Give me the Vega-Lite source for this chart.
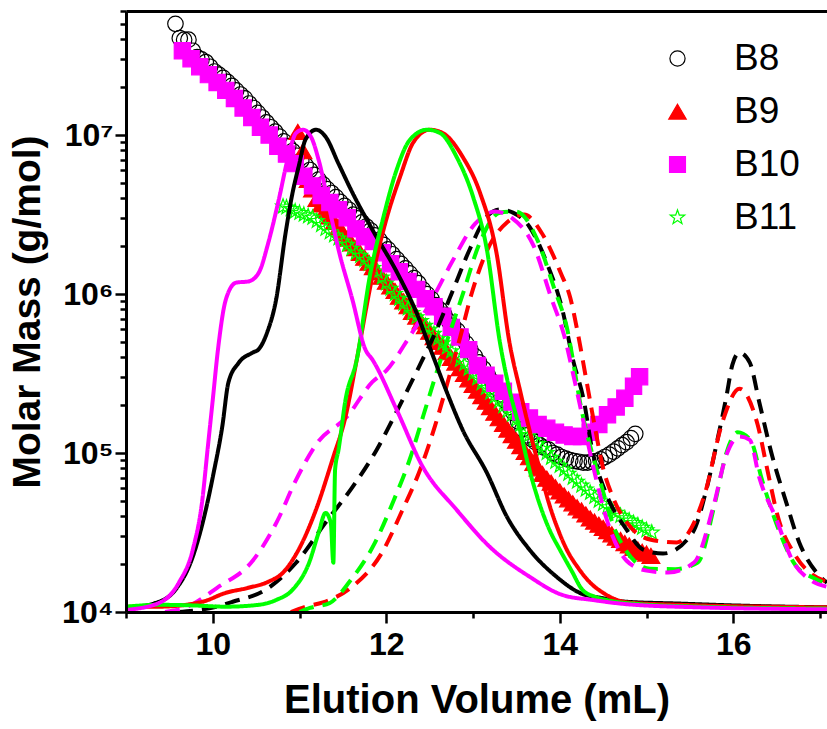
{
"$schema": "https://vega.github.io/schema/vega-lite/v6.json",
"autosize": {"type": "none"},
"width": 701,
"height": 601,
"padding": {"left": 126, "top": 11, "right": 0, "bottom": 117},
"background": "white",
"config": {"view": {"stroke": null}, "font": "Liberation Sans"},
"datasets": {
"pts": [
{"sample":"B8","vol":9.57,"mass":5.01e7},{"sample":"B8","vol":9.62,"mass":4.07e7},{"sample":"B8","vol":9.67,"mass":3.98e7},{"sample":"B8","vol":9.72,"mass":3.98e7},{"sample":"B8","vol":9.77,"mass":3.39e7},{"sample":"B8","vol":9.82,"mass":3.09e7},{"sample":"B8","vol":9.87,"mass":2.99e7},{"sample":"B8","vol":9.92,"mass":2.88e7},{"sample":"B8","vol":9.97,"mass":2.69e7},{"sample":"B8","vol":10.02,"mass":2.51e7},{"sample":"B8","vol":10.07,"mass":2.40e7},{"sample":"B8","vol":10.12,"mass":2.29e7},{"sample":"B8","vol":10.17,"mass":2.16e7},{"sample":"B8","vol":10.22,"mass":2.04e7},{"sample":"B8","vol":10.27,"mass":1.91e7},{"sample":"B8","vol":10.32,"mass":1.80e7},{"sample":"B8","vol":10.37,"mass":1.70e7},{"sample":"B8","vol":10.42,"mass":1.58e7},{"sample":"B8","vol":10.47,"mass":1.48e7},{"sample":"B8","vol":10.52,"mass":1.38e7},{"sample":"B8","vol":10.57,"mass":1.29e7},{"sample":"B8","vol":10.62,"mass":1.20e7},{"sample":"B8","vol":10.67,"mass":1.12e7},{"sample":"B8","vol":10.72,"mass":1.05e7},{"sample":"B8","vol":10.77,"mass":9.77e6},{"sample":"B8","vol":10.82,"mass":9.12e6},{"sample":"B8","vol":10.87,"mass":8.51e6},{"sample":"B8","vol":10.92,"mass":7.94e6},{"sample":"B8","vol":10.97,"mass":7.41e6},{"sample":"B8","vol":11.02,"mass":6.92e6},{"sample":"B8","vol":11.07,"mass":6.46e6},{"sample":"B8","vol":11.12,"mass":6.03e6},{"sample":"B8","vol":11.17,"mass":5.62e6},{"sample":"B8","vol":11.22,"mass":5.25e6},{"sample":"B8","vol":11.27,"mass":4.90e6},{"sample":"B8","vol":11.32,"mass":4.57e6},{"sample":"B8","vol":11.37,"mass":4.32e6},{"sample":"B8","vol":11.42,"mass":4.07e6},{"sample":"B8","vol":11.47,"mass":3.80e6},{"sample":"B8","vol":11.52,"mass":3.59e6},{"sample":"B8","vol":11.57,"mass":3.39e6},{"sample":"B8","vol":11.62,"mass":3.16e6},{"sample":"B8","vol":11.67,"mass":2.99e6},{"sample":"B8","vol":11.72,"mass":2.82e6},{"sample":"B8","vol":11.77,"mass":2.66e6},{"sample":"B8","vol":11.82,"mass":2.51e6},{"sample":"B8","vol":11.87,"mass":2.34e6},{"sample":"B8","vol":11.92,"mass":2.19e6},{"sample":"B8","vol":11.97,"mass":2.04e6},{"sample":"B8","vol":12.02,"mass":1.91e6},{"sample":"B8","vol":12.07,"mass":1.78e6},{"sample":"B8","vol":12.12,"mass":1.66e6},{"sample":"B8","vol":12.17,"mass":1.55e6},{"sample":"B8","vol":12.22,"mass":1.45e6},{"sample":"B8","vol":12.27,"mass":1.35e6},{"sample":"B8","vol":12.32,"mass":1.26e6},{"sample":"B8","vol":12.37,"mass":1.17e6},{"sample":"B8","vol":12.42,"mass":1.07e6},{"sample":"B8","vol":12.47,"mass":1.00e6},{"sample":"B8","vol":12.52,"mass":9.33e5},{"sample":"B8","vol":12.57,"mass":8.51e5},{"sample":"B8","vol":12.62,"mass":7.94e5},{"sample":"B8","vol":12.67,"mass":7.41e5},{"sample":"B8","vol":12.72,"mass":6.76e5},{"sample":"B8","vol":12.77,"mass":6.31e5},{"sample":"B8","vol":12.82,"mass":5.89e5},{"sample":"B8","vol":12.87,"mass":5.37e5},{"sample":"B8","vol":12.92,"mass":4.90e5},{"sample":"B8","vol":12.97,"mass":4.47e5},{"sample":"B8","vol":13.02,"mass":4.07e5},{"sample":"B8","vol":13.07,"mass":3.72e5},{"sample":"B8","vol":13.12,"mass":3.39e5},{"sample":"B8","vol":13.17,"mass":3.09e5},{"sample":"B8","vol":13.22,"mass":2.82e5},{"sample":"B8","vol":13.27,"mass":2.57e5},{"sample":"B8","vol":13.32,"mass":2.34e5},{"sample":"B8","vol":13.37,"mass":2.14e5},{"sample":"B8","vol":13.42,"mass":1.95e5},{"sample":"B8","vol":13.47,"mass":1.78e5},{"sample":"B8","vol":13.52,"mass":1.58e5},{"sample":"B8","vol":13.57,"mass":1.41e5},{"sample":"B8","vol":13.62,"mass":1.29e5},{"sample":"B8","vol":13.67,"mass":1.23e5},{"sample":"B8","vol":13.72,"mass":1.17e5},{"sample":"B8","vol":13.77,"mass":1.12e5},{"sample":"B8","vol":13.82,"mass":1.08e5},{"sample":"B8","vol":13.87,"mass":1.05e5},{"sample":"B8","vol":13.92,"mass":1.00e5},{"sample":"B8","vol":13.97,"mass":9.77e4},{"sample":"B8","vol":14.02,"mass":9.44e4},{"sample":"B8","vol":14.07,"mass":9.23e4},{"sample":"B8","vol":14.12,"mass":9.02e4},{"sample":"B8","vol":14.17,"mass":8.91e4},{"sample":"B8","vol":14.22,"mass":8.81e4},{"sample":"B8","vol":14.27,"mass":8.71e4},{"sample":"B8","vol":14.32,"mass":8.71e4},{"sample":"B8","vol":14.37,"mass":8.81e4},{"sample":"B8","vol":14.42,"mass":8.91e4},{"sample":"B8","vol":14.47,"mass":9.12e4},{"sample":"B8","vol":14.52,"mass":9.44e4},{"sample":"B8","vol":14.57,"mass":9.77e4},{"sample":"B8","vol":14.62,"mass":1.02e5},{"sample":"B8","vol":14.67,"mass":1.07e5},{"sample":"B8","vol":14.72,"mass":1.12e5},{"sample":"B8","vol":14.77,"mass":1.17e5},{"sample":"B8","vol":14.82,"mass":1.24e5},{"sample":"B8","vol":14.87,"mass":1.32e5},
{"sample":"B9","vol":10.98,"mass":1.05e7},{"sample":"B9","vol":11.04,"mass":7.94e6},{"sample":"B9","vol":11.10,"mass":5.25e6},{"sample":"B9","vol":11.15,"mass":4.57e6},{"sample":"B9","vol":11.20,"mass":3.98e6},{"sample":"B9","vol":11.25,"mass":3.67e6},{"sample":"B9","vol":11.30,"mass":3.39e6},{"sample":"B9","vol":11.35,"mass":3.09e6},{"sample":"B9","vol":11.40,"mass":2.85e6},{"sample":"B9","vol":11.45,"mass":2.63e6},{"sample":"B9","vol":11.50,"mass":2.43e6},{"sample":"B9","vol":11.55,"mass":2.24e6},{"sample":"B9","vol":11.60,"mass":2.09e6},{"sample":"B9","vol":11.65,"mass":1.95e6},{"sample":"B9","vol":11.70,"mass":1.82e6},{"sample":"B9","vol":11.75,"mass":1.70e6},{"sample":"B9","vol":11.80,"mass":1.58e6},{"sample":"B9","vol":11.85,"mass":1.48e6},{"sample":"B9","vol":11.90,"mass":1.38e6},{"sample":"B9","vol":11.95,"mass":1.29e6},{"sample":"B9","vol":12.00,"mass":1.20e6},{"sample":"B9","vol":12.05,"mass":1.12e6},{"sample":"B9","vol":12.10,"mass":1.05e6},{"sample":"B9","vol":12.15,"mass":9.66e5},{"sample":"B9","vol":12.20,"mass":9.02e5},{"sample":"B9","vol":12.25,"mass":8.41e5},{"sample":"B9","vol":12.30,"mass":7.76e5},{"sample":"B9","vol":12.35,"mass":7.24e5},{"sample":"B9","vol":12.40,"mass":6.76e5},{"sample":"B9","vol":12.45,"mass":6.31e5},{"sample":"B9","vol":12.50,"mass":5.82e5},{"sample":"B9","vol":12.55,"mass":5.37e5},{"sample":"B9","vol":12.60,"mass":5.01e5},{"sample":"B9","vol":12.65,"mass":4.68e5},{"sample":"B9","vol":12.70,"mass":4.32e5},{"sample":"B9","vol":12.75,"mass":3.98e5},{"sample":"B9","vol":12.80,"mass":3.72e5},{"sample":"B9","vol":12.85,"mass":3.43e5},{"sample":"B9","vol":12.90,"mass":3.16e5},{"sample":"B9","vol":12.95,"mass":2.92e5},{"sample":"B9","vol":13.00,"mass":2.69e5},{"sample":"B9","vol":13.05,"mass":2.48e5},{"sample":"B9","vol":13.10,"mass":2.29e5},{"sample":"B9","vol":13.15,"mass":2.11e5},{"sample":"B9","vol":13.20,"mass":1.95e5},{"sample":"B9","vol":13.25,"mass":1.80e5},{"sample":"B9","vol":13.30,"mass":1.66e5},{"sample":"B9","vol":13.35,"mass":1.53e5},{"sample":"B9","vol":13.40,"mass":1.41e5},{"sample":"B9","vol":13.45,"mass":1.30e5},{"sample":"B9","vol":13.50,"mass":1.20e5},{"sample":"B9","vol":13.55,"mass":1.11e5},{"sample":"B9","vol":13.60,"mass":1.02e5},{"sample":"B9","vol":13.65,"mass":9.44e4},{"sample":"B9","vol":13.70,"mass":8.71e4},{"sample":"B9","vol":13.75,"mass":8.04e4},{"sample":"B9","vol":13.80,"mass":7.41e4},{"sample":"B9","vol":13.85,"mass":6.92e4},{"sample":"B9","vol":13.90,"mass":6.53e4},{"sample":"B9","vol":13.95,"mass":6.10e4},{"sample":"B9","vol":14.00,"mass":5.75e4},{"sample":"B9","vol":14.05,"mass":5.43e4},{"sample":"B9","vol":14.10,"mass":5.13e4},{"sample":"B9","vol":14.15,"mass":4.84e4},{"sample":"B9","vol":14.20,"mass":4.57e4},{"sample":"B9","vol":14.25,"mass":4.37e4},{"sample":"B9","vol":14.30,"mass":4.12e4},{"sample":"B9","vol":14.35,"mass":3.89e4},{"sample":"B9","vol":14.40,"mass":3.72e4},{"sample":"B9","vol":14.45,"mass":3.55e4},{"sample":"B9","vol":14.50,"mass":3.39e4},{"sample":"B9","vol":14.55,"mass":3.24e4},{"sample":"B9","vol":14.60,"mass":3.09e4},{"sample":"B9","vol":14.65,"mass":2.95e4},{"sample":"B9","vol":14.70,"mass":2.85e4},{"sample":"B9","vol":14.75,"mass":2.72e4},{"sample":"B9","vol":14.80,"mass":2.63e4},{"sample":"B9","vol":14.85,"mass":2.54e4},{"sample":"B9","vol":14.90,"mass":2.48e4},{"sample":"B9","vol":14.95,"mass":2.40e4},{"sample":"B9","vol":15.00,"mass":2.34e4},{"sample":"B9","vol":15.05,"mass":2.26e4},
{"sample":"B11","vol":10.81,"mass":3.55e6},{"sample":"B11","vol":10.85,"mass":3.51e6},{"sample":"B11","vol":10.90,"mass":3.43e6},{"sample":"B11","vol":10.95,"mass":3.31e6},{"sample":"B11","vol":11.00,"mass":3.24e6},{"sample":"B11","vol":11.05,"mass":3.16e6},{"sample":"B11","vol":11.10,"mass":3.09e6},{"sample":"B11","vol":11.15,"mass":3.02e6},{"sample":"B11","vol":11.20,"mass":2.88e6},{"sample":"B11","vol":11.25,"mass":2.72e6},{"sample":"B11","vol":11.30,"mass":2.57e6},{"sample":"B11","vol":11.35,"mass":2.45e6},{"sample":"B11","vol":11.40,"mass":2.34e6},{"sample":"B11","vol":11.45,"mass":2.24e6},{"sample":"B11","vol":11.50,"mass":2.14e6},{"sample":"B11","vol":11.55,"mass":2.04e6},{"sample":"B11","vol":11.60,"mass":1.93e6},{"sample":"B11","vol":11.65,"mass":1.82e6},{"sample":"B11","vol":11.70,"mass":1.74e6},{"sample":"B11","vol":11.75,"mass":1.64e6},{"sample":"B11","vol":11.80,"mass":1.55e6},{"sample":"B11","vol":11.85,"mass":1.46e6},{"sample":"B11","vol":11.90,"mass":1.38e6},{"sample":"B11","vol":11.95,"mass":1.27e6},{"sample":"B11","vol":12.00,"mass":1.17e6},{"sample":"B11","vol":12.05,"mass":1.08e6},{"sample":"B11","vol":12.10,"mass":1.00e6},{"sample":"B11","vol":12.15,"mass":9.33e5},{"sample":"B11","vol":12.20,"mass":8.71e5},{"sample":"B11","vol":12.25,"mass":8.13e5},{"sample":"B11","vol":12.30,"mass":7.59e5},{"sample":"B11","vol":12.35,"mass":7.16e5},{"sample":"B11","vol":12.40,"mass":6.76e5},{"sample":"B11","vol":12.45,"mass":6.31e5},{"sample":"B11","vol":12.50,"mass":5.96e5},{"sample":"B11","vol":12.55,"mass":5.62e5},{"sample":"B11","vol":12.60,"mass":5.25e5},{"sample":"B11","vol":12.65,"mass":4.90e5},{"sample":"B11","vol":12.70,"mass":4.62e5},{"sample":"B11","vol":12.75,"mass":4.37e5},{"sample":"B11","vol":12.80,"mass":4.07e5},{"sample":"B11","vol":12.85,"mass":3.85e5},{"sample":"B11","vol":12.90,"mass":3.63e5},{"sample":"B11","vol":12.95,"mass":3.39e5},{"sample":"B11","vol":13.00,"mass":3.16e5},{"sample":"B11","vol":13.05,"mass":2.95e5},{"sample":"B11","vol":13.10,"mass":2.75e5},{"sample":"B11","vol":13.15,"mass":2.57e5},{"sample":"B11","vol":13.20,"mass":2.40e5},{"sample":"B11","vol":13.25,"mass":2.26e5},{"sample":"B11","vol":13.30,"mass":2.11e5},{"sample":"B11","vol":13.35,"mass":1.97e5},{"sample":"B11","vol":13.40,"mass":1.84e5},{"sample":"B11","vol":13.45,"mass":1.74e5},{"sample":"B11","vol":13.50,"mass":1.62e5},{"sample":"B11","vol":13.55,"mass":1.51e5},{"sample":"B11","vol":13.60,"mass":1.41e5},{"sample":"B11","vol":13.65,"mass":1.30e5},{"sample":"B11","vol":13.70,"mass":1.22e5},{"sample":"B11","vol":13.75,"mass":1.14e5},{"sample":"B11","vol":13.80,"mass":1.06e5},{"sample":"B11","vol":13.85,"mass":1.00e5},{"sample":"B11","vol":13.90,"mass":9.33e4},{"sample":"B11","vol":13.95,"mass":8.81e4},{"sample":"B11","vol":14.00,"mass":8.32e4},{"sample":"B11","vol":14.05,"mass":7.85e4},{"sample":"B11","vol":14.10,"mass":7.41e4},{"sample":"B11","vol":14.15,"mass":7.00e4},{"sample":"B11","vol":14.20,"mass":6.61e4},{"sample":"B11","vol":14.25,"mass":6.24e4},{"sample":"B11","vol":14.30,"mass":5.89e4},{"sample":"B11","vol":14.35,"mass":5.62e4},{"sample":"B11","vol":14.40,"mass":5.31e4},{"sample":"B11","vol":14.45,"mass":5.01e4},{"sample":"B11","vol":14.50,"mass":4.79e4},{"sample":"B11","vol":14.55,"mass":4.57e4},{"sample":"B11","vol":14.60,"mass":4.37e4},{"sample":"B11","vol":14.65,"mass":4.22e4},{"sample":"B11","vol":14.70,"mass":4.03e4},{"sample":"B11","vol":14.75,"mass":3.89e4},{"sample":"B11","vol":14.80,"mass":3.76e4},{"sample":"B11","vol":14.85,"mass":3.63e4},{"sample":"B11","vol":14.90,"mass":3.51e4},{"sample":"B11","vol":14.95,"mass":3.39e4},{"sample":"B11","vol":15.00,"mass":3.27e4},{"sample":"B11","vol":15.06,"mass":3.16e4},
{"sample":"B10","vol":9.65,"mass":3.39e7},{"sample":"B10","vol":9.75,"mass":3.02e7},{"sample":"B10","vol":9.85,"mass":2.69e7},{"sample":"B10","vol":9.95,"mass":2.40e7},{"sample":"B10","vol":10.05,"mass":2.14e7},{"sample":"B10","vol":10.15,"mass":1.91e7},{"sample":"B10","vol":10.25,"mass":1.70e7},{"sample":"B10","vol":10.35,"mass":1.48e7},{"sample":"B10","vol":10.45,"mass":1.29e7},{"sample":"B10","vol":10.55,"mass":1.12e7},{"sample":"B10","vol":10.65,"mass":1.00e7},{"sample":"B10","vol":10.75,"mass":8.51e6},{"sample":"B10","vol":10.85,"mass":7.59e6},{"sample":"B10","vol":10.95,"mass":6.61e6},{"sample":"B10","vol":11.05,"mass":5.50e6},{"sample":"B10","vol":11.15,"mass":4.79e6},{"sample":"B10","vol":11.25,"mass":4.17e6},{"sample":"B10","vol":11.35,"mass":3.76e6},{"sample":"B10","vol":11.45,"mass":3.39e6},{"sample":"B10","vol":11.55,"mass":3.02e6},{"sample":"B10","vol":11.65,"mass":2.57e6},{"sample":"B10","vol":11.75,"mass":2.29e6},{"sample":"B10","vol":11.85,"mass":2.14e6},{"sample":"B10","vol":11.95,"mass":1.82e6},{"sample":"B10","vol":12.05,"mass":1.55e6},{"sample":"B10","vol":12.15,"mass":1.38e6},{"sample":"B10","vol":12.25,"mass":1.20e6},{"sample":"B10","vol":12.35,"mass":1.07e6},{"sample":"B10","vol":12.45,"mass":9.33e5},{"sample":"B10","vol":12.55,"mass":8.32e5},{"sample":"B10","vol":12.65,"mass":7.24e5},{"sample":"B10","vol":12.75,"mass":6.17e5},{"sample":"B10","vol":12.85,"mass":5.37e5},{"sample":"B10","vol":12.95,"mass":4.47e5},{"sample":"B10","vol":13.05,"mass":3.55e5},{"sample":"B10","vol":13.15,"mass":3.09e5},{"sample":"B10","vol":13.25,"mass":2.75e5},{"sample":"B10","vol":13.35,"mass":2.45e5},{"sample":"B10","vol":13.45,"mass":2.09e5},{"sample":"B10","vol":13.55,"mass":1.82e5},{"sample":"B10","vol":13.65,"mass":1.66e5},{"sample":"B10","vol":13.75,"mass":1.51e5},{"sample":"B10","vol":13.85,"mass":1.43e5},{"sample":"B10","vol":13.95,"mass":1.35e5},{"sample":"B10","vol":14.05,"mass":1.30e5},{"sample":"B10","vol":14.15,"mass":1.27e5},{"sample":"B10","vol":14.25,"mass":1.27e5},{"sample":"B10","vol":14.35,"mass":1.35e5},{"sample":"B10","vol":14.45,"mass":1.51e5},{"sample":"B10","vol":14.55,"mass":1.74e5},{"sample":"B10","vol":14.65,"mass":1.95e5},{"sample":"B10","vol":14.75,"mass":2.21e5},{"sample":"B10","vol":14.85,"mass":2.63e5},{"sample":"B10","vol":14.92,"mass":3.02e5}
],
"lines": [
{"sample":"B8","kind":"dashed","vol":9.6,"mass":1.0e4},{"sample":"B8","kind":"dashed","vol":10.04,"mass":1.08e4},{"sample":"B8","kind":"dashed","vol":10.23,"mass":1.16e4},{"sample":"B8","kind":"dashed","vol":10.61,"mass":1.38e4},{"sample":"B8","kind":"dashed","vol":10.96,"mass":2.04e4},{"sample":"B8","kind":"dashed","vol":11.30,"mass":3.65e4},{"sample":"B8","kind":"dashed","vol":11.61,"mass":6.1e4},{"sample":"B8","kind":"dashed","vol":11.89,"mass":1.05e5},{"sample":"B8","kind":"dashed","vol":12.13,"mass":1.87e5},{"sample":"B8","kind":"dashed","vol":12.36,"mass":3.34e5},{"sample":"B8","kind":"dashed","vol":12.57,"mass":5.8e5},{"sample":"B8","kind":"dashed","vol":12.77,"mass":1.06e6},{"sample":"B8","kind":"dashed","vol":12.96,"mass":1.9e6},{"sample":"B8","kind":"dashed","vol":13.16,"mass":3.07e6},{"sample":"B8","kind":"dashed","vol":13.31,"mass":3.4e6},{"sample":"B8","kind":"dashed","vol":13.46,"mass":3.25e6},{"sample":"B8","kind":"dashed","vol":13.65,"mass":2.65e6},{"sample":"B8","kind":"dashed","vol":13.85,"mass":1.57e6},{"sample":"B8","kind":"dashed","vol":14.03,"mass":7.96e5},{"sample":"B8","kind":"dashed","vol":14.15,"mass":3.9e5},{"sample":"B8","kind":"dashed","vol":14.28,"mass":2.1e5},{"sample":"B8","kind":"dashed","vol":14.37,"mass":1.07e5},{"sample":"B8","kind":"dashed","vol":14.52,"mass":5.8e4},{"sample":"B8","kind":"dashed","vol":14.77,"mass":3.3e4},{"sample":"B8","kind":"dashed","vol":14.96,"mass":2.47e4},{"sample":"B8","kind":"dashed","vol":15.19,"mass":2.33e4},{"sample":"B8","kind":"dashed","vol":15.53,"mass":3.15e4},{"sample":"B8","kind":"dashed","vol":15.69,"mass":5.9e4},{"sample":"B8","kind":"dashed","vol":15.81,"mass":1.16e5},{"sample":"B8","kind":"dashed","vol":15.92,"mass":2.26e5},{"sample":"B8","kind":"dashed","vol":15.99,"mass":3.6e5},{"sample":"B8","kind":"dashed","vol":16.07,"mass":4.28e5},{"sample":"B8","kind":"dashed","vol":16.19,"mass":3.7e5},{"sample":"B8","kind":"dashed","vol":16.30,"mass":2.08e5},{"sample":"B8","kind":"dashed","vol":16.45,"mass":9.5e4},{"sample":"B8","kind":"dashed","vol":16.61,"mass":4.9e4},{"sample":"B8","kind":"dashed","vol":16.76,"mass":2.74e4},{"sample":"B8","kind":"dashed","vol":16.96,"mass":1.77e4},{"sample":"B8","kind":"dashed","vol":17.08,"mass":1.53e4},
{"sample":"B9","kind":"dashed","vol":10.9,"mass":1.0e4},{"sample":"B9","kind":"dashed","vol":11.07,"mass":1.08e4},{"sample":"B9","kind":"dashed","vol":11.27,"mass":1.15e4},{"sample":"B9","kind":"dashed","vol":11.59,"mass":1.42e4},{"sample":"B9","kind":"dashed","vol":11.95,"mass":2.36e4},{"sample":"B9","kind":"dashed","vol":12.18,"mass":4.3e4},{"sample":"B9","kind":"dashed","vol":12.39,"mass":7.85e4},{"sample":"B9","kind":"dashed","vol":12.56,"mass":1.47e5},{"sample":"B9","kind":"dashed","vol":12.70,"mass":2.7e5},{"sample":"B9","kind":"dashed","vol":12.85,"mass":5.3e5},{"sample":"B9","kind":"dashed","vol":12.98,"mass":9.9e5},{"sample":"B9","kind":"dashed","vol":13.15,"mass":1.82e6},{"sample":"B9","kind":"dashed","vol":13.40,"mass":2.85e6},{"sample":"B9","kind":"dashed","vol":13.59,"mass":3.16e6},{"sample":"B9","kind":"dashed","vol":13.79,"mass":2.43e6},{"sample":"B9","kind":"dashed","vol":14.01,"mass":1.36e6},{"sample":"B9","kind":"dashed","vol":14.12,"mass":9.5e5},{"sample":"B9","kind":"dashed","vol":14.21,"mass":5.6e5},{"sample":"B9","kind":"dashed","vol":14.30,"mass":3.0e5},{"sample":"B9","kind":"dashed","vol":14.40,"mass":1.5e5},{"sample":"B9","kind":"dashed","vol":14.50,"mass":8.0e4},{"sample":"B9","kind":"dashed","vol":14.61,"mass":5.3e4},{"sample":"B9","kind":"dashed","vol":14.80,"mass":3.5e4},{"sample":"B9","kind":"dashed","vol":15.05,"mass":2.85e4},{"sample":"B9","kind":"dashed","vol":15.35,"mass":2.74e4},{"sample":"B9","kind":"dashed","vol":15.52,"mass":3.4e4},{"sample":"B9","kind":"dashed","vol":15.67,"mass":5.5e4},{"sample":"B9","kind":"dashed","vol":15.88,"mass":1.6e5},{"sample":"B9","kind":"dashed","vol":16.07,"mass":2.54e5},{"sample":"B9","kind":"dashed","vol":16.28,"mass":1.51e5},{"sample":"B9","kind":"dashed","vol":16.40,"mass":7.5e4},{"sample":"B9","kind":"dashed","vol":16.51,"mass":4.04e4},{"sample":"B9","kind":"dashed","vol":16.71,"mass":2.29e4},{"sample":"B9","kind":"dashed","vol":16.91,"mass":1.72e4},{"sample":"B9","kind":"dashed","vol":17.08,"mass":1.55e4},
{"sample":"B11","kind":"dashed","vol":11.0,"mass":1.0e4},{"sample":"B11","kind":"dashed","vol":11.12,"mass":1.06e4},{"sample":"B11","kind":"dashed","vol":11.35,"mass":1.14e4},{"sample":"B11","kind":"dashed","vol":11.58,"mass":1.56e4},{"sample":"B11","kind":"dashed","vol":11.87,"mass":2.73e4},{"sample":"B11","kind":"dashed","vol":12.09,"mass":5.1e4},{"sample":"B11","kind":"dashed","vol":12.27,"mass":9.1e4},{"sample":"B11","kind":"dashed","vol":12.43,"mass":1.74e5},{"sample":"B11","kind":"dashed","vol":12.59,"mass":3.34e5},{"sample":"B11","kind":"dashed","vol":12.88,"mass":9.9e5},{"sample":"B11","kind":"dashed","vol":13.07,"mass":2.05e6},{"sample":"B11","kind":"dashed","vol":13.31,"mass":3.25e6},{"sample":"B11","kind":"dashed","vol":13.50,"mass":3.3e6},{"sample":"B11","kind":"dashed","vol":13.74,"mass":2.2e6},{"sample":"B11","kind":"dashed","vol":13.93,"mass":1.11e6},{"sample":"B11","kind":"dashed","vol":14.08,"mass":6.2e5},{"sample":"B11","kind":"dashed","vol":14.25,"mass":1.88e5},{"sample":"B11","kind":"dashed","vol":14.46,"mass":6.8e4},{"sample":"B11","kind":"dashed","vol":14.67,"mass":2.98e4},{"sample":"B11","kind":"dashed","vol":15.04,"mass":1.87e4},{"sample":"B11","kind":"dashed","vol":15.33,"mass":1.86e4},{"sample":"B11","kind":"dashed","vol":15.59,"mass":2.05e4},{"sample":"B11","kind":"dashed","vol":15.79,"mass":4.9e4},{"sample":"B11","kind":"dashed","vol":15.92,"mass":1.0e5},{"sample":"B11","kind":"dashed","vol":16.05,"mass":1.35e5},{"sample":"B11","kind":"dashed","vol":16.20,"mass":1.2e5},{"sample":"B11","kind":"dashed","vol":16.33,"mass":6.8e4},{"sample":"B11","kind":"dashed","vol":16.51,"mass":3.44e4},{"sample":"B11","kind":"dashed","vol":16.71,"mass":1.99e4},{"sample":"B11","kind":"dashed","vol":16.92,"mass":1.64e4},{"sample":"B11","kind":"dashed","vol":17.08,"mass":1.5e4},
{"sample":"B10","kind":"dashed","vol":9.45,"mass":1.0e4},{"sample":"B10","kind":"dashed","vol":9.71,"mass":1.08e4},{"sample":"B10","kind":"dashed","vol":10.05,"mass":1.42e4},{"sample":"B10","kind":"dashed","vol":10.46,"mass":2.1e4},{"sample":"B10","kind":"dashed","vol":10.74,"mass":3.7e4},{"sample":"B10","kind":"dashed","vol":10.95,"mass":6.6e4},{"sample":"B10","kind":"dashed","vol":11.2,"mass":1.15e5},{"sample":"B10","kind":"dashed","vol":11.55,"mass":1.7e5},{"sample":"B10","kind":"dashed","vol":11.84,"mass":2.8e5},{"sample":"B10","kind":"dashed","vol":12.0,"mass":3.3e5},{"sample":"B10","kind":"dashed","vol":12.25,"mass":5.2e5},{"sample":"B10","kind":"dashed","vol":12.54,"mass":9.5e5},{"sample":"B10","kind":"dashed","vol":12.76,"mass":1.6e6},{"sample":"B10","kind":"dashed","vol":13.02,"mass":2.75e6},{"sample":"B10","kind":"dashed","vol":13.25,"mass":3.3e6},{"sample":"B10","kind":"dashed","vol":13.45,"mass":3.0e6},{"sample":"B10","kind":"dashed","vol":13.70,"mass":2.0e6},{"sample":"B10","kind":"dashed","vol":13.90,"mass":9.5e5},{"sample":"B10","kind":"dashed","vol":14.05,"mass":5.5e5},{"sample":"B10","kind":"dashed","vol":14.18,"mass":2.7e5},{"sample":"B10","kind":"dashed","vol":14.39,"mass":8.0e4},{"sample":"B10","kind":"dashed","vol":14.53,"mass":4.0e4},{"sample":"B10","kind":"dashed","vol":14.77,"mass":2.1e4},{"sample":"B10","kind":"dashed","vol":15.0,"mass":1.82e4},{"sample":"B10","kind":"dashed","vol":15.25,"mass":1.77e4},{"sample":"B10","kind":"dashed","vol":15.55,"mass":2.05e4},{"sample":"B10","kind":"dashed","vol":15.77,"mass":4.6e4},{"sample":"B10","kind":"dashed","vol":15.92,"mass":9.7e4},{"sample":"B10","kind":"dashed","vol":16.07,"mass":1.27e5},{"sample":"B10","kind":"dashed","vol":16.19,"mass":1.21e5},{"sample":"B10","kind":"dashed","vol":16.30,"mass":7.0e4},{"sample":"B10","kind":"dashed","vol":16.49,"mass":3.9e4},{"sample":"B10","kind":"dashed","vol":16.69,"mass":2.07e4},{"sample":"B10","kind":"dashed","vol":16.88,"mass":1.6e4},{"sample":"B10","kind":"dashed","vol":17.08,"mass":1.44e4},
{"sample":"B8","kind":"solid","vol":9.0,"mass":1.06e4},{"sample":"B8","kind":"solid","vol":9.34,"mass":1.14e4},{"sample":"B8","kind":"solid","vol":9.57,"mass":1.38e4},{"sample":"B8","kind":"solid","vol":9.77,"mass":2.23e4},{"sample":"B8","kind":"solid","vol":9.92,"mass":4.4e4},{"sample":"B8","kind":"solid","vol":10.01,"mass":7.5e4},{"sample":"B8","kind":"solid","vol":10.11,"mass":1.47e5},{"sample":"B8","kind":"solid","vol":10.18,"mass":2.77e5},{"sample":"B8","kind":"solid","vol":10.30,"mass":3.7e5},{"sample":"B8","kind":"solid","vol":10.46,"mass":4.28e5},{"sample":"B8","kind":"solid","vol":10.53,"mass":4.5e5},{"sample":"B8","kind":"solid","vol":10.63,"mass":5.8e5},{"sample":"B8","kind":"solid","vol":10.73,"mass":9.2e5},{"sample":"B8","kind":"solid","vol":10.84,"mass":2.43e6},{"sample":"B8","kind":"solid","vol":10.92,"mass":4.34e6},{"sample":"B8","kind":"solid","vol":10.99,"mass":6.33e6},{"sample":"B8","kind":"solid","vol":11.07,"mass":9.4e6},{"sample":"B8","kind":"solid","vol":11.19,"mass":1.08e7},{"sample":"B8","kind":"solid","vol":11.30,"mass":9.77e6},{"sample":"B8","kind":"solid","vol":11.45,"mass":6.6e6},{"sample":"B8","kind":"solid","vol":11.61,"mass":4.34e6},{"sample":"B8","kind":"solid","vol":11.84,"mass":2.54e6},{"sample":"B8","kind":"solid","vol":12.12,"mass":1.38e6},{"sample":"B8","kind":"solid","vol":12.35,"mass":7.6e5},{"sample":"B8","kind":"solid","vol":12.53,"mass":4.2e5},{"sample":"B8","kind":"solid","vol":12.70,"mass":2.4e5},{"sample":"B8","kind":"solid","vol":12.88,"mass":1.4e5},{"sample":"B8","kind":"solid","vol":13.16,"mass":7.5e4},{"sample":"B8","kind":"solid","vol":13.39,"mass":3.98e4},{"sample":"B8","kind":"solid","vol":13.65,"mass":2.47e4},{"sample":"B8","kind":"solid","vol":13.96,"mass":1.67e4},{"sample":"B8","kind":"solid","vol":14.23,"mass":1.32e4},{"sample":"B8","kind":"solid","vol":14.50,"mass":1.22e4},{"sample":"B8","kind":"solid","vol":14.77,"mass":1.16e4},{"sample":"B8","kind":"solid","vol":15.38,"mass":1.13e4},{"sample":"B8","kind":"solid","vol":16.0,"mass":1.1e4},{"sample":"B8","kind":"solid","vol":17.08,"mass":1.07e4},
{"sample":"B9","kind":"solid","vol":9.0,"mass":1.08e4},{"sample":"B9","kind":"solid","vol":9.38,"mass":1.08e4},{"sample":"B9","kind":"solid","vol":9.88,"mass":1.16e4},{"sample":"B9","kind":"solid","vol":10.15,"mass":1.32e4},{"sample":"B9","kind":"solid","vol":10.41,"mass":1.42e4},{"sample":"B9","kind":"solid","vol":10.64,"mass":1.55e4},{"sample":"B9","kind":"solid","vol":10.81,"mass":1.77e4},{"sample":"B9","kind":"solid","vol":10.99,"mass":2.47e4},{"sample":"B9","kind":"solid","vol":11.19,"mass":4.4e4},{"sample":"B9","kind":"solid","vol":11.38,"mass":9.1e4},{"sample":"B9","kind":"solid","vol":11.53,"mass":1.69e5},{"sample":"B9","kind":"solid","vol":11.66,"mass":3.87e5},{"sample":"B9","kind":"solid","vol":11.84,"mass":1.29e6},{"sample":"B9","kind":"solid","vol":12.0,"mass":2.94e6},{"sample":"B9","kind":"solid","vol":12.16,"mass":5.48e6},{"sample":"B9","kind":"solid","vol":12.31,"mass":8.96e6},{"sample":"B9","kind":"solid","vol":12.50,"mass":1.08e7},{"sample":"B9","kind":"solid","vol":12.65,"mass":1.03e7},{"sample":"B9","kind":"solid","vol":12.88,"mass":7.3e6},{"sample":"B9","kind":"solid","vol":13.08,"mass":4.34e6},{"sample":"B9","kind":"solid","vol":13.27,"mass":1.82e6},{"sample":"B9","kind":"solid","vol":13.42,"mass":4.96e5},{"sample":"B9","kind":"solid","vol":13.54,"mass":2.5e5},{"sample":"B9","kind":"solid","vol":13.65,"mass":1.4e5},{"sample":"B9","kind":"solid","vol":13.77,"mass":7.85e4},{"sample":"B9","kind":"solid","vol":13.88,"mass":4.73e4},{"sample":"B9","kind":"solid","vol":13.98,"mass":3.3e4},{"sample":"B9","kind":"solid","vol":14.08,"mass":2.47e4},{"sample":"B9","kind":"solid","vol":14.21,"mass":1.9e4},{"sample":"B9","kind":"solid","vol":14.35,"mass":1.53e4},{"sample":"B9","kind":"solid","vol":14.50,"mass":1.32e4},{"sample":"B9","kind":"solid","vol":14.66,"mass":1.19e4},{"sample":"B9","kind":"solid","vol":14.84,"mass":1.14e4},{"sample":"B9","kind":"solid","vol":15.38,"mass":1.11e4},{"sample":"B9","kind":"solid","vol":17.08,"mass":1.07e4},
{"sample":"B11","kind":"solid","vol":9.0,"mass":1.08e4},{"sample":"B11","kind":"solid","vol":9.38,"mass":1.11e4},{"sample":"B11","kind":"solid","vol":9.77,"mass":1.1e4},{"sample":"B11","kind":"solid","vol":10.15,"mass":1.08e4},{"sample":"B11","kind":"solid","vol":10.53,"mass":1.11e4},{"sample":"B11","kind":"solid","vol":10.73,"mass":1.19e4},{"sample":"B11","kind":"solid","vol":10.92,"mass":1.38e4},{"sample":"B11","kind":"solid","vol":11.11,"mass":2.04e4},{"sample":"B11","kind":"solid","vol":11.22,"mass":3.15e4},{"sample":"B11","kind":"solid","vol":11.30,"mass":4.2e4},{"sample":"B11","kind":"solid","vol":11.36,"mass":3.65e4},{"sample":"B11","kind":"solid","vol":11.39,"mass":2.04e4},{"sample":"B11","kind":"solid","vol":11.41,"mass":7.85e4},{"sample":"B11","kind":"solid","vol":11.45,"mass":1.05e5},{"sample":"B11","kind":"solid","vol":11.53,"mass":2.16e5},{"sample":"B11","kind":"solid","vol":11.66,"mass":3.87e5},{"sample":"B11","kind":"solid","vol":11.81,"mass":1.29e6},{"sample":"B11","kind":"solid","vol":11.96,"mass":2.94e6},{"sample":"B11","kind":"solid","vol":12.12,"mass":6.06e6},{"sample":"B11","kind":"solid","vol":12.27,"mass":9.3e6},{"sample":"B11","kind":"solid","vol":12.47,"mass":1.08e7},{"sample":"B11","kind":"solid","vol":12.62,"mass":1.03e7},{"sample":"B11","kind":"solid","vol":12.81,"mass":7.3e6},{"sample":"B11","kind":"solid","vol":13.0,"mass":4.1e6},{"sample":"B11","kind":"solid","vol":13.16,"mass":1.9e6},{"sample":"B11","kind":"solid","vol":13.31,"mass":4.96e5},{"sample":"B11","kind":"solid","vol":13.42,"mass":2.5e5},{"sample":"B11","kind":"solid","vol":13.54,"mass":1.4e5},{"sample":"B11","kind":"solid","vol":13.65,"mass":7.85e4},{"sample":"B11","kind":"solid","vol":13.77,"mass":4.73e4},{"sample":"B11","kind":"solid","vol":13.88,"mass":3.3e4},{"sample":"B11","kind":"solid","vol":14.0,"mass":2.47e4},{"sample":"B11","kind":"solid","vol":14.14,"mass":1.8e4},{"sample":"B11","kind":"solid","vol":14.26,"mass":1.38e4},{"sample":"B11","kind":"solid","vol":14.40,"mass":1.25e4},{"sample":"B11","kind":"solid","vol":14.54,"mass":1.19e4},{"sample":"B11","kind":"solid","vol":14.92,"mass":1.12e4},{"sample":"B11","kind":"solid","vol":15.61,"mass":1.08e4},{"sample":"B11","kind":"solid","vol":17.08,"mass":1.05e4},
{"sample":"B10","kind":"solid","vol":9.0,"mass":1.03e4},{"sample":"B10","kind":"solid","vol":9.38,"mass":1.14e4},{"sample":"B10","kind":"solid","vol":9.61,"mass":1.53e4},{"sample":"B10","kind":"solid","vol":9.77,"mass":2.47e4},{"sample":"B10","kind":"solid","vol":9.88,"mass":5.08e4},{"sample":"B10","kind":"solid","vol":9.94,"mass":1.05e5},{"sample":"B10","kind":"solid","vol":10.0,"mass":2.16e5},{"sample":"B10","kind":"solid","vol":10.06,"mass":4.47e5},{"sample":"B10","kind":"solid","vol":10.15,"mass":9.2e5},{"sample":"B10","kind":"solid","vol":10.27,"mass":1.18e6},{"sample":"B10","kind":"solid","vol":10.41,"mass":1.2e6},{"sample":"B10","kind":"solid","vol":10.53,"mass":1.36e6},{"sample":"B10","kind":"solid","vol":10.64,"mass":2.1e6},{"sample":"B10","kind":"solid","vol":10.76,"mass":3.9e6},{"sample":"B10","kind":"solid","vol":10.87,"mass":7.3e6},{"sample":"B10","kind":"solid","vol":10.96,"mass":1.03e7},{"sample":"B10","kind":"solid","vol":11.04,"mass":1.08e7},{"sample":"B10","kind":"solid","vol":11.13,"mass":9.8e6},{"sample":"B10","kind":"solid","vol":11.22,"mass":7.0e6},{"sample":"B10","kind":"solid","vol":11.34,"mass":3.55e6},{"sample":"B10","kind":"solid","vol":11.45,"mass":1.9e6},{"sample":"B10","kind":"solid","vol":11.61,"mass":9.2e5},{"sample":"B10","kind":"solid","vol":11.76,"mass":4.47e5},{"sample":"B10","kind":"solid","vol":11.84,"mass":3.87e5},{"sample":"B10","kind":"solid","vol":12.12,"mass":1.87e5},{"sample":"B10","kind":"solid","vol":12.42,"mass":8.2e4},{"sample":"B10","kind":"solid","vol":12.81,"mass":4.4e4},{"sample":"B10","kind":"solid","vol":13.19,"mass":2.58e4},{"sample":"B10","kind":"solid","vol":13.65,"mass":1.67e4},{"sample":"B10","kind":"solid","vol":14.03,"mass":1.28e4},{"sample":"B10","kind":"solid","vol":14.38,"mass":1.19e4},{"sample":"B10","kind":"solid","vol":14.77,"mass":1.12e4},{"sample":"B10","kind":"solid","vol":15.61,"mass":1.07e4},{"sample":"B10","kind":"solid","vol":17.08,"mass":1.04e4}
]
},
"layer": [
{
"data": {"name": "pts"},
"mark": {"type": "point", "opacity": 1, "strokeWidth": 1.2, "size": 240, "clip": true},
"encoding": {
"x": {"field": "vol", "type": "quantitative", "scale": {"domain": [9, 17.08], "nice": false, "zero": false},
 "axis": {"title": "Elution Volume (mL)", "values": [9,10,11,12,13,14,15,16,17], "labelExpr": "datum.value % 2 == 0 ? datum.label : ''",
  "tickSize": {"condition": {"test": "datum.value % 2 == 0", "value": 11}, "value": 6},
  "tickWidth": 2.5, "tickColor": "black", "domainColor": "black", "domainWidth": 3, "grid": false,
  "labelFont": "Liberation Sans", "labelFontSize": 32, "labelFontWeight": "bold", "labelColor": "black", "labelPadding": 6, "labelOverlap": false, "labelFlush": false,
  "titleFont": "Liberation Sans", "titleFontSize": 40, "titleFontWeight": "bold", "titleColor": "black", "titlePadding": 20, "zindex": 1}},
"y": {"field": "mass", "type": "quantitative", "scale": {"type": "log", "domain": [10000, 60300000], "nice": false},
 "axis": {"title": "Molar Mass (g/mol)", "values": [10000,20000,30000,40000,50000,60000,70000,80000,90000,100000,200000,300000,400000,500000,600000,700000,800000,900000,1000000,2000000,3000000,4000000,5000000,6000000,7000000,8000000,9000000,10000000,20000000,30000000,40000000,50000000,60000000],
  "labelExpr": "datum.value == 10000 ? '10⁴' : datum.value == 100000 ? '10⁵' : datum.value == 1000000 ? '10⁶' : datum.value == 10000000 ? '10⁷' : ''",
  "tickSize": {"condition": {"test": "datum.value == 10000 || datum.value == 100000 || datum.value == 1000000 || datum.value == 10000000", "value": 11}, "value": 6},
  "tickWidth": 2.5, "tickColor": "black", "domainColor": "black", "domainWidth": 3, "grid": false,
  "labelFont": "Liberation Sans", "labelFontSize": 32, "labelFontWeight": "bold", "labelColor": "black", "labelPadding": 2, "labelOverlap": false, "labelFlush": false,
  "titleFont": "Liberation Sans", "titleFontSize": 39, "titleFontWeight": "bold", "titleColor": "black", "titlePadding": 14, "zindex": 1}},
"shape": {"field": "sample", "type": "nominal", "scale": {"domain": ["B8","B9","B10","B11"], "range": ["circle", "M0,-0.95L1.15,1L-1.15,1Z", "M-1.05,-1.05H1.05V1.05H-1.05Z", "M0,-1L0.235,-0.324L0.951,-0.309L0.380,0.124L0.588,0.809L0,0.4L-0.588,0.809L-0.380,0.124L-0.951,-0.309L-0.235,-0.324Z"]},
 "legend": {"orient": "none", "legendX": 533, "legendY": 29, "title": null, "labelFont": "Liberation Sans", "labelFontSize": 37, "labelFontWeight": "normal", "labelColor": "black", "symbolSize": 230, "symbolStrokeWidth": 1.2, "rowPadding": 15, "labelOffset": 38, "padding": 0}},
"fill": {"field": "sample", "type": "nominal", "scale": {"domain": ["B8","B9","B10","B11"], "range": ["transparent","#ff0000","#ff00ff","transparent"]}},
"stroke": {"field": "sample", "type": "nominal", "scale": {"domain": ["B8","B9","B10","B11"], "range": ["#000000","#ff0000","#ff00ff","#00ff00"]}}
}
},
{
"data": {"name": "lines"},
"mark": {"type": "line", "strokeWidth": 4, "interpolate": "monotone", "clip": true},
"encoding": {
"x": {"field": "vol", "type": "quantitative", "axis": {"orient": "top", "labels": false, "ticks": false, "title": null, "domainColor": "black", "domainWidth": 3, "grid": false, "zindex": 1}},
"y": {"field": "mass", "type": "quantitative"},
"stroke": {"field": "sample", "type": "nominal"},
"strokeDash": {"field": "kind", "type": "nominal", "scale": {"domain": ["solid","dashed"], "range": [[1,0],[15,9]]}, "legend": null}
}
}
],
"resolve": {"axis": {"x": "independent"}}
}
